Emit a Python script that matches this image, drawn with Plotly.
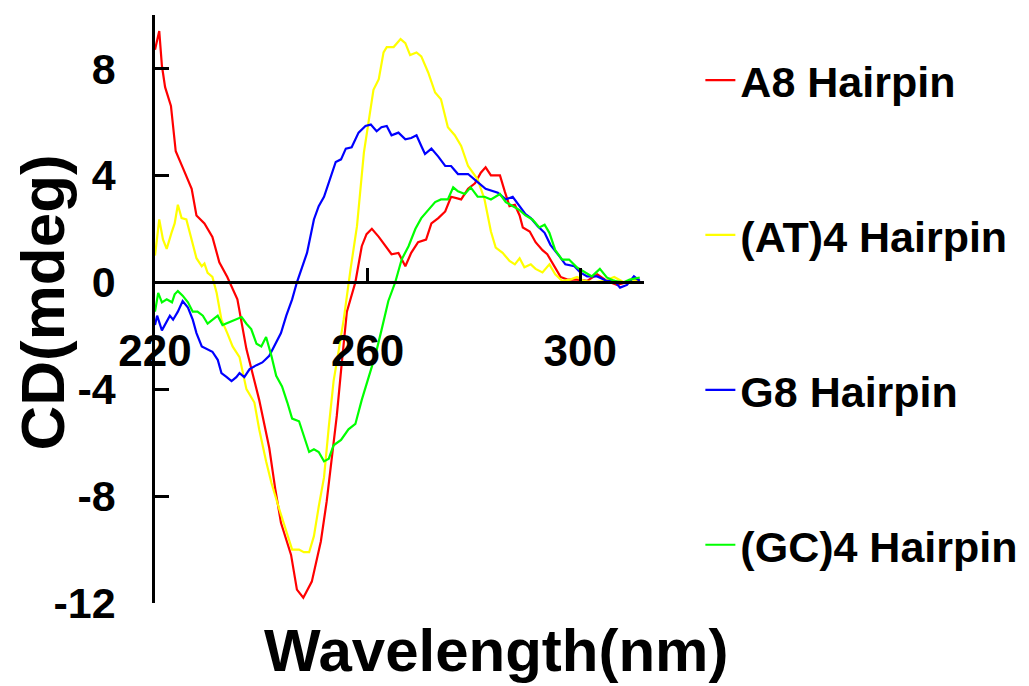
import plotly.graph_objects as go

# ---- data ----
a8_x = [220, 220.8, 221.3, 221.9, 223, 223.9, 225.2, 226.9, 227.8, 229.3, 230.8, 232.1, 233.6, 234.6,
        235.5, 237.2, 239.6, 241.5, 242.6, 243.7, 245.6, 246.7, 247.9, 249.5, 251.2, 252.3, 253.3, 254.2,
        255.1, 256.1, 257.7, 258.9, 259.8, 260.8, 262.1, 263.3, 264.5, 265.8, 267.1, 268.2, 269.5, 271,
        272, 273.3, 274.6, 275.7, 277.6, 278.9, 280.2, 281.3, 282.2, 283.2, 284.9, 285.8, 286.7, 287.7,
        288.6, 289.2, 290.5, 291.6, 292.9, 293.8, 295.1, 296.3, 297.6, 299.4, 301.3, 303.2, 305, 306.9,
        308.8, 311.2]
a8_y = [8.7, 9.4, 8.1, 7.3, 6.6, 4.9, 4.3, 3.5, 2.5, 2.2, 1.7, 0.75, 0.2, -0.26,
        -0.64, -2.5, -4.4, -6.2, -7.7, -9.0, -10.2, -11.5, -11.8, -11.2, -9.7, -8.2, -6.6, -5.0,
        -3.1, -1.1, 0.0, 1.35, 1.8, 2.0, 1.7, 1.35, 1.05, 1.1, 0.6, 1.1, 1.5, 1.6,
        2.2, 2.4, 2.65, 3.2, 3.1, 3.5, 3.7, 4.1, 4.3, 4.0, 4.0, 3.4, 2.85, 2.9,
        2.5, 2.05, 1.9, 1.5, 1.2, 1.05, 0.6, 0.2, 0.1, 0.1, 0.05, 0.3, 0.05, -0.1,
        0.0, 0.1]

at4_x = [220, 220.8, 221.5, 222.2, 223.1, 223.7, 224.3, 225, 225.9, 226.9, 227.8, 228.8, 229.3, 229.9,
         230.8, 231.6, 232.5, 233.6, 234.6, 235.9, 237.2, 238.7, 239.6, 240.9, 241.9, 243.4, 244.7, 245.8,
         247.1, 248, 249, 249.9, 250.8, 251.8, 252.7, 253.6, 254.6, 255.5, 256.8, 258, 259.3, 260.2,
         261.1, 262.1, 263, 263.6, 264.9, 266.2, 267.1, 268, 269.2, 270.1, 271.4, 272.7, 273.8, 275.1,
         276.4, 277.6, 278.9, 280.7, 282, 283.2, 284.1, 285.4, 286.7, 287.7, 288.6, 289.5, 290.7, 291.6,
         292.9, 294.2, 295.3, 296.6, 298.1, 299.4, 300.7, 302.6, 304.5, 306.4, 308.2, 310.1, 311.6]
at4_y = [1.0, 2.35, 1.6, 1.25, 1.85, 2.2, 2.9, 2.4, 2.35, 1.6, 0.9, 0.6, 0.7, 0.35,
         0.2, -0.4, -1.4, -1.9, -2.4, -2.8, -4.0, -4.5, -5.5, -6.7, -7.5, -8.5, -9.3, -10.0,
         -10.0, -10.1, -10.1, -9.5, -8.4, -7.3, -5.4, -3.7, -2.5, -1.4, 0.5, 2.1, 4.85, 6.1,
         7.2, 7.6, 8.6, 8.8, 8.8, 9.1, 8.95, 8.5, 8.6, 8.45, 7.85, 7.1, 6.85, 5.8,
         5.5, 5.1, 4.35, 3.85, 3.1, 1.9, 1.3, 1.1, 0.8, 0.67, 0.9, 0.56, 0.67, 0.5,
         0.37, 0.67, 0.3, 0.05, 0.1, 0.2, 0.05, 0.0, 0.05, 0.2, 0.0, 0.05, 0.0]

g8_x = [220, 220.4, 221.3, 222.2, 222.8, 223.4, 224.3, 225.2, 226.2, 227.1, 227.8, 228.8, 229.7, 230.8,
        231.8, 232.5, 233.5, 234.4, 235.3, 235.9, 236.8, 237.8, 239.1, 240.2, 241.5, 242.4, 243.7, 244.7,
        245.8, 246.7, 247.7, 248.6, 249.9, 250.8, 251.8, 252.7, 254, 255, 255.9, 257, 258.3, 259.6,
        260.6, 261.7, 262.6, 263.6, 264.5, 265.8, 267.1, 268.2, 269.2, 270.1, 270.8, 272, 273.3, 274.6,
        275.7, 277, 278.9, 280.7, 282.2, 284.5, 286, 287.3, 288.6, 289.7, 290.7, 292, 293.3, 294.4,
        296.1, 297.2, 298.9, 300, 301.3, 303.2, 305, 306.4, 307.5, 308.8, 310.1, 311.2]
g8_y = [-1.6, -1.25, -1.8, -1.5, -1.25, -1.4, -1.1, -0.7, -0.95, -1.4, -1.9, -2.4, -2.5, -2.6,
        -2.9, -3.4, -3.55, -3.7, -3.55, -3.4, -3.55, -3.25, -3.1, -3.0, -2.75, -2.4, -1.9, -1.25,
        -0.64, 0.0, 0.55, 1.1, 2.35, 2.85, 3.2, 3.75, 4.5, 4.6, 5.0, 5.05, 5.6, 5.85,
        5.9, 5.65, 5.8, 5.85, 5.5, 5.6, 5.35, 5.4, 5.5, 5.1, 4.8, 5.0, 4.7, 4.35,
        4.35, 4.05, 4.05, 3.75, 3.5, 3.35, 3.1, 3.2, 2.85, 2.55, 2.4, 2.1, 1.85, 1.4,
        0.97, 0.67, 0.6, 0.37, 0.22, 0.22, 0.05, 0.05, -0.2, -0.1, 0.22, 0.05]

gc4_x = [220, 220.6, 221.3, 222.2, 223.2, 223.7, 224.3, 225.2, 226.2, 227.1, 228, 229, 229.9, 230.8,
         231.8, 232.7, 234, 235, 236.3, 237.2, 238.1, 239.1, 240, 240.9, 241.9, 242.8, 243.9, 244.9,
         245.8, 247.1, 248.4, 249, 249.9, 250.8, 251.8, 252.7, 253.6, 255, 256.4, 257.7, 258.9, 260.2,
         261.5, 262.6, 263.9, 265.2, 266.4, 267.7, 269, 270.1, 271.4, 272.7, 273.8, 275.1, 276.1, 277,
         278.3, 279.4, 280.7, 282, 283.2, 284.9, 286, 287.3, 288.6, 289.7, 291, 292.3, 293.3, 294.2,
         295.3, 296.6, 297.9, 299.4, 300.7, 302.2, 303.7, 305, 306.4, 308.2, 309.3, 311.2]
gc4_y = [-1.1, -0.4, -0.75, -0.64, -0.75, -0.45, -0.33, -0.5, -0.75, -1.1, -1.1, -1.25, -1.55, -1.4,
         -1.25, -1.6, -1.5, -1.4, -1.3, -1.55, -1.75, -2.3, -2.4, -2.05, -2.75, -3.5, -3.9, -4.5,
         -5.1, -5.2, -6.0, -6.35, -6.25, -6.35, -6.7, -6.6, -6.1, -5.9, -5.5, -5.3, -4.4, -3.5,
         -2.7, -1.8, -0.7, 0.0, 0.85, 1.35, 2.0, 2.4, 2.7, 3.0, 3.1, 3.1, 3.55, 3.4,
         3.3, 3.55, 3.2, 3.2, 3.1, 3.3, 3.0, 2.85, 2.7, 2.5, 2.35, 2.05, 2.15, 1.85,
         1.2, 0.85, 0.85, 0.55, 0.4, 0.22, 0.5, 0.18, 0.05, 0.0, 0.1, 0.18]

series_names = ["A8 Hairpin", "(AT)4 Hairpin", "G8 Hairpin", "(GC)4 Hairpin"]
series_colors = ["#FF0000", "#FFFF00", "#0000FF", "#00FF00"]
x_tick_vals = [220, 260, 300]
y_tick_vals = [-12, -8, -4, 0, 4, 8]
y_tick_text = ["-12", "-8", "-4", "0", "4", "8"]
x_title = "Wavelength(nm)"
y_title = "CD(mdeg)"

FONT = "Liberation Sans, Arial, sans-serif"

fig = go.Figure()
for name, color, xs, ys in zip(series_names, series_colors,
                               [a8_x, at4_x, g8_x, gc4_x], [a8_y, at4_y, g8_y, gc4_y]):
    fig.add_trace(go.Scatter(x=xs, y=ys, mode="lines", name=name, legendgroup=name,
                             line=dict(color=color, width=2.2)))

ymin, ymax = -12, 10
zero_pos = (0 - ymin) / (ymax - ymin)

fig.update_layout(
    width=1021, height=678,
    margin=dict(l=147, r=384, t=7, b=83),
    plot_bgcolor="white", paper_bgcolor="white",
    font=dict(family=FONT, color="black"),
    xaxis=dict(range=[220, 312], anchor="free", position=zero_pos,
               showline=True, linecolor="black", linewidth=2.5,
               ticks="inside", ticklen=14, tickwidth=2.5, tickcolor="black",
               tickvals=x_tick_vals, ticklabelstandoff=29,
               tickfont=dict(family=FONT, size=44, weight="bold", color="black"),
               showgrid=False, zeroline=False),
    yaxis=dict(range=[ymin, ymax], showline=True, linecolor="black", linewidth=2.5,
               ticks="inside", ticklen=14, tickwidth=2.5, tickcolor="black",
               tickvals=y_tick_vals, ticktext=y_tick_text, ticklabelstandoff=28,
               tickfont=dict(family=FONT, size=43, weight="bold", color="black"),
               showgrid=False, zeroline=False),
    legend=dict(x=1.113, xanchor="left", y=0.948, yanchor="top",
                traceorder="grouped", tracegroupgap=96,
                font=dict(family=FONT, size=43, weight="bold", color="black"),
                bgcolor="rgba(0,0,0,0)", borderwidth=0),
    annotations=[
        dict(text=x_title, xref="paper", yref="paper", x=0.698, y=-0.0815,
             xanchor="center", yanchor="middle", showarrow=False,
             font=dict(family=FONT, size=60, weight="bold", color="black")),
        dict(text=y_title, xref="paper", yref="paper", x=-0.2306, y=0.5115,
             xanchor="center", yanchor="middle", showarrow=False, textangle=-90,
             font=dict(family=FONT, size=62, weight="bold", color="black")),
    ],
)

fig.write_html("out.html")
